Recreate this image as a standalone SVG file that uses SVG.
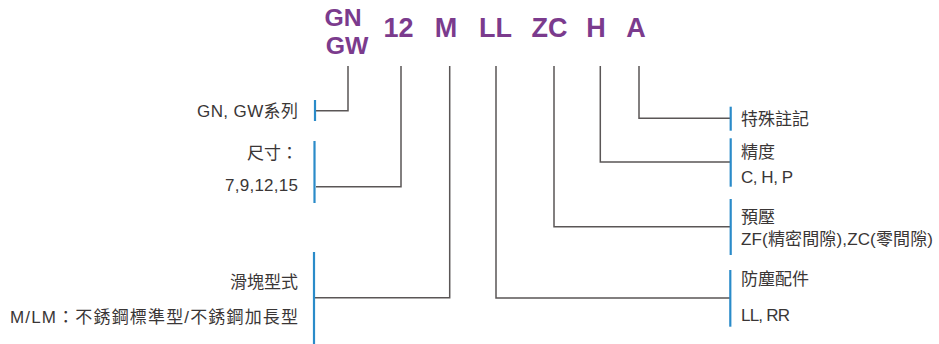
<svg xmlns="http://www.w3.org/2000/svg" width="939" height="344" viewBox="0 0 939 344">
<style>
.code{font-family:"Liberation Sans",Arial,sans-serif;font-weight:bold;font-size:27px;fill:#7b3b8d;text-anchor:middle}
.t{font-family:"Liberation Sans","Noto Sans CJK TC",sans-serif;font-size:17px;fill:#3a3636}
.l{text-anchor:end}
.ln{fill:none;stroke:#5a5656;stroke-width:1.5}
.bar{stroke:#2a8bc9;stroke-width:2.2}
</style>
<rect width="939" height="344" fill="#fff"/>
<g id="code">
<text class="code" x="343" y="26.2" style="font-size:24.8px">GN</text>
<text class="code" x="347" y="54" style="font-size:24.8px">GW</text>
<text class="code" x="398.5" y="37">12</text>
<text class="code" x="446" y="37">M</text>
<text class="code" x="495.5" y="37">LL</text>
<text class="code" x="549.5" y="37">ZC</text>
<text class="code" x="596" y="37">H</text>
<text class="code" x="636" y="37">A</text>
</g>
<g id="connectors">
<polyline class="ln" points="348,66 348,110.7 316,110.7"/>
<polyline class="ln" points="401,66 401,186.7 316,186.7"/>
<polyline class="ln" points="449.7,66 449.7,297.7 315,297.7"/>
<polyline class="ln" points="496,66 496,298 730,298"/>
<polyline class="ln" points="554,66 554,226.7 730,226.7"/>
<polyline class="ln" points="600.3,66 600.3,162 730,162"/>
<polyline class="ln" points="639,66 639,118.3 730,118.3"/>
</g>
<g id="series">
<line class="bar" x1="315" y1="100" x2="315" y2="121"/>
<text class="t l" x="298" y="116.5" textLength="101" lengthAdjust="spacing">GN, GW系列</text>
</g>
<g id="size">
<line class="bar" x1="314.5" y1="141" x2="314.5" y2="203"/>
<text class="t l" x="298" y="158.5">尺寸：</text>
<text class="t l" x="298" y="190.5" textLength="73" lengthAdjust="spacing">7,9,12,15</text>
</g>
<g id="block">
<line class="bar" x1="314" y1="252" x2="314" y2="344"/>
<text class="t l" x="298" y="287.5">滑塊型式</text>
<text class="t" x="10" y="322.5" textLength="288" lengthAdjust="spacing">M/LM：不銹鋼標準型/不銹鋼加長型</text>
</g>
<g id="remark">
<line class="bar" x1="730.7" y1="106.7" x2="730.7" y2="130.7"/>
<text class="t" x="741" y="125">特殊註記</text>
</g>
<g id="precision">
<line class="bar" x1="730.7" y1="138.3" x2="730.7" y2="186.7"/>
<text class="t" x="741" y="158">精度</text>
<text class="t" x="741" y="182.5" textLength="52" lengthAdjust="spacing">C, H, P</text>
</g>
<g id="preload">
<line class="bar" x1="730.7" y1="199" x2="730.7" y2="255"/>
<text class="t" x="741" y="223">預壓</text>
<text class="t" x="741" y="245" textLength="192" lengthAdjust="spacing">ZF(精密間隙),ZC(零間隙)</text>
</g>
<g id="dust">
<line class="bar" x1="730.3" y1="270" x2="730.3" y2="326.7"/>
<text class="t" x="741" y="285">防塵配件</text>
<text class="t" x="741" y="321" textLength="49" lengthAdjust="spacing">LL, RR</text>
</g>
</svg>
